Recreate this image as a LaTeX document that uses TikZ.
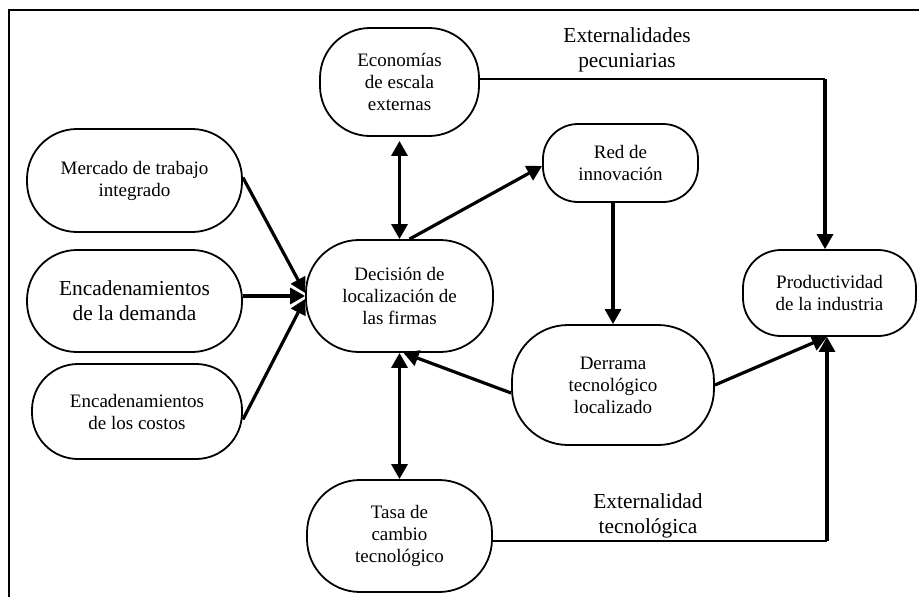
\documentclass[tikz,border=0pt]{standalone}
\usepackage{fontspec}
\setmainfont{Liberation Serif}
\usetikzlibrary{arrows.meta,calc}
\begin{document}
\begin{tikzpicture}[x=1pt,y=-1pt,
  box/.style={draw,line width=1.8pt,rounded corners=#1,inner sep=0pt,align=center,
    font=\fontsize{19}{22}\selectfont},
  bigtxt/.style={font=\fontsize{21.4}{25}\selectfont},
  arr/.style={line width=3.2pt,-{Triangle[length=15pt,width=16pt]}},
  darr/.style={line width=3.2pt,{Triangle[length=15pt,width=16pt]}-{Triangle[length=15pt,width=16pt]}},
  thinline/.style={line width=1.8pt},
  lbl/.style={align=center,inner sep=0pt,font=\fontsize{21.4}{25}\selectfont}]
\useasboundingbox (0,0) rectangle (919,597);
\draw[line width=1.8pt] (9,597) -- (9,10) -- (919,10);

\node[box=50pt,minimum width=159pt,minimum height=108pt] (eco) at (399.5,82) {Economías\\de escala\\externas};
\node[box=50pt,minimum width=215pt,minimum height=103pt] (merc) at (134.5,180.5) {Mercado de trabajo\\integrado};
\node[box=50pt,minimum width=215pt,minimum height=102pt,bigtxt] (dem) at (134.5,301) {Encadenamientos\\de la demanda};
\node[box=46pt,minimum width=210pt,minimum height=95pt] (cos) at (137,411.5) {Encadenamientos\\de los costos};
\node[box=53pt,minimum width=187pt,minimum height=112pt] (dec) at (399.5,296) {Decisión de\\localización de\\las firmas};
\node[box=35pt,minimum width=155pt,minimum height=78pt] (red) at (620.5,163) {Red de\\innovación};
\node[box=38pt,minimum width=173pt,minimum height=86pt] (prod) at (829.5,293) {Productividad\\de la industria};
\node[box=56pt,minimum width=202pt,minimum height=120pt] (der) at (613,385) {Derrama\\tecnológico\\localizado};
\node[box=53pt,minimum width=185pt,minimum height=112pt] (tasa) at (399.5,536) {Tasa de\\cambio\\tecnológico};

\node[lbl] (ext1) at (627,50) {Externalidades\\pecuniarias};
\node[lbl] (ext2) at (648,516) {Externalidad\\tecnológica};

\coordinate (c1) at ($(prod.north)+(-4.5,0)$);
\coordinate (c2) at ($(prod.south)+(-2.5,0)$);
\coordinate (e1) at ($(eco.east)+(0,-3)$);
\coordinate (t1) at ($(tasa.east)+(0,5)$);

% inputs to decision
\draw[arr] ($(merc.east)+(0,-3)$) -- ($(dec.west)+(0,-3)$);
\draw[arr] (dem.east |- dec.west) -- (dec.west);
\draw[arr] ($(cos.east)+(0,8)$) -- ($(dec.west)+(0,3)$);
% vertical double arrows
\draw[darr] ($(eco.south)+(0,4)$) -- (dec.north);
\draw[darr] (dec.south) -- (tasa.north);
% decision to red
\draw[arr] ($(dec.north)+(10,0)$) -- ($(red.west)+(0,3)$);
% red to derrama
\draw[arr] (red.south -| der.north) -- (der.north);
% derrama to decision
\draw[arr] ($(der.west)+(0,8)$) -- ($(dec.south)+(4,0)$);
% derrama to productividad
\draw[arr] (der.east) -- (c2);
% economias to productividad
\draw[thinline] (e1) -- (e1 -| c1);
\draw[arr] (e1 -| c1) -- (c1);
% tasa to productividad
\draw[thinline] (t1) -- (t1 -| c2);
\draw[arr] (t1 -| c2) -- (c2);
\end{tikzpicture}
\end{document}
